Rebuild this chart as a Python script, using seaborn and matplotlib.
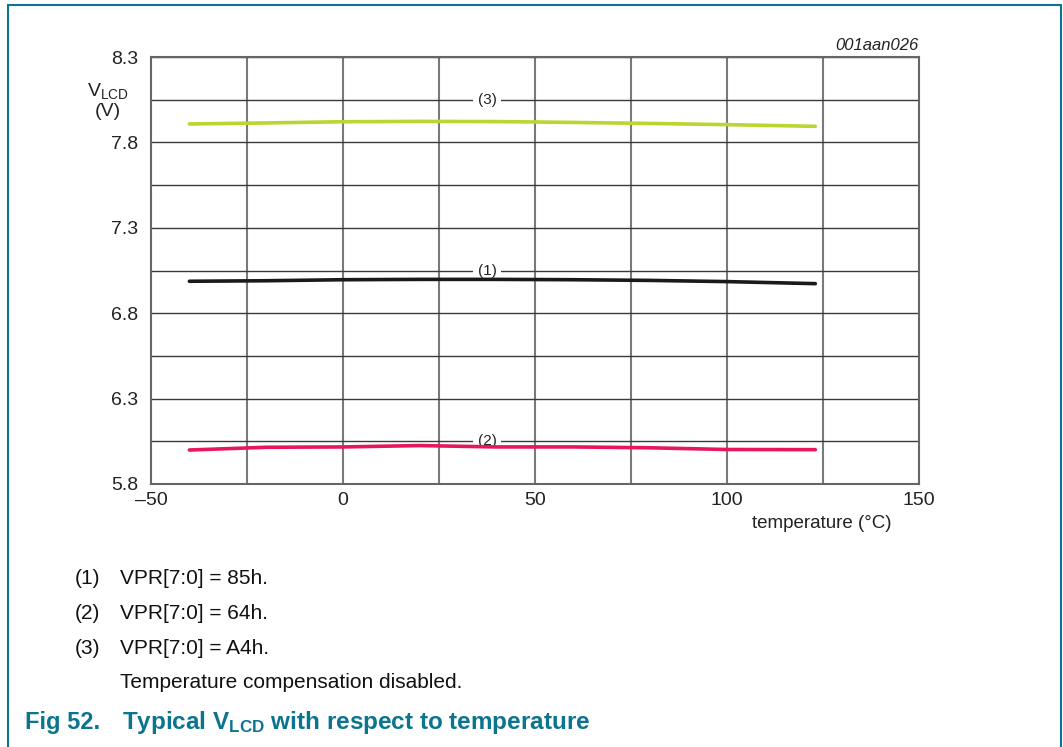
import numpy as np
import pandas as pd
import seaborn as sns
import matplotlib.pyplot as plt
from matplotlib.lines import Line2D

# data
temp = [-40, -20, 0, 20, 40, 60, 80, 100, 123]
v_85h = [6.987, 6.990, 6.996, 6.998, 6.998, 6.996, 6.992, 6.985, 6.973]
v_64h = [5.999, 6.015, 6.017, 6.025, 6.017, 6.017, 6.012, 6.002, 6.001]
v_a4h = [7.908, 7.914, 7.921, 7.923, 7.922, 7.917, 7.911, 7.904, 7.894]
curve_names = ["(1)", "(2)", "(3)"]
label_y = [7.05, 6.05, 8.05]
xticks = [-50, 0, 50, 100, 150]
xticklabels = ["\u201350", "0", "50", "100", "150"]
yticks = [5.8, 6.3, 6.8, 7.3, 7.8, 8.3]
notes = ["VPR[7:0] = 85h.", "VPR[7:0] = 64h.", "VPR[7:0] = A4h."]

df = pd.DataFrame({
    "temp": temp * 3,
    "vlcd": v_85h + v_64h + v_a4h,
    "curve": [c for c in curve_names for _ in temp],
})
colors = {"(1)": "#1a1a1a", "(2)": "#e6175b", "(3)": "#bcd530"}
teal = "#0b7590"

sns.set_style("white")
plt.rcParams['font.family'] = ['Liberation Sans', 'DejaVu Sans']
plt.rcParams['mathtext.fontset'] = 'custom'
plt.rcParams['mathtext.rm'] = 'Liberation Sans'
plt.rcParams['mathtext.it'] = 'Liberation Sans:italic'
plt.rcParams['mathtext.bf'] = 'Liberation Sans:bold'

fig = plt.figure(figsize=(10.63, 7.47), dpi=100)
ax = fig.add_axes([151 / 1063, 1 - 484 / 747, 768 / 1063, 427 / 747])

# grid
for gx in np.arange(-25, 150, 25):
    ax.axvline(gx, color="#7a7a7a", lw=1.5, zorder=1)
for gy in np.arange(6.05, 8.3, 0.25):
    ax.axhline(gy, color="#3a3a3a", lw=1.0, zorder=1)

sns.lineplot(data=df, x="temp", y="vlcd", hue="curve", palette=colors,
             linewidth=2.6, legend=False, ax=ax, zorder=3)

for name, ly in zip(curve_names, label_y):
    ax.text(37.5, ly, name, ha="center", va="center", fontsize=11, color="#222222",
            bbox=dict(facecolor="white", edgecolor="none", pad=3.5), zorder=2)

ax.set_xlim(-50, 150)
ax.set_ylim(5.8, 8.3)
ax.set_xticks(xticks)
ax.set_xticklabels(xticklabels)
ax.set_yticks(yticks)
ax.tick_params(axis="both", length=0, labelsize=14, colors="#222222")
ax.tick_params(axis="y", pad=9)
ax.tick_params(axis="x", pad=6)
ax.set_xlabel("")
ax.set_ylabel("")
for s in ax.spines.values():
    s.set_color("#666666")
    s.set_linewidth(1.5)
    s.set_visible(True)

fig.text(108 / 1063, 1 - 91 / 747, r"V$_{\mathrm{LCD}}$", ha="center", va="center",
         fontsize=14, color="#222222")
fig.text(108 / 1063, 1 - 112 / 747, "(V)", ha="center", va="center",
         fontsize=14, color="#222222")
fig.text(822 / 1063, 1 - 523 / 747, "temperature (\u00b0C)", ha="center", va="center",
         fontsize=13.5, color="#222222")
fig.text(919 / 1063, 1 - 45 / 747, "001aan026", ha="right", va="center",
         fontsize=12, style="italic", color="#222222")

# notes under the chart
for i, (name, note) in enumerate(zip(curve_names, notes)):
    yy = 1 - (579 + i * 34.5) / 747
    fig.text(75 / 1063, yy, name, ha="left", va="center", fontsize=15, color="#111111")
    fig.text(120 / 1063, yy, note, ha="left", va="center", fontsize=15, color="#111111")
fig.text(120 / 1063, 1 - 682 / 747, "Temperature compensation disabled.", ha="left",
         va="center", fontsize=15, color="#111111")

fig.text(25 / 1063, 1 - 722 / 747, "Fig 52.", ha="left", va="center", fontsize=17,
         fontweight="bold", color=teal)
fig.text(122 / 1063, 1 - 722 / 747,
         r"Typical V$_{\mathbf{LCD}}$ with respect to temperature", ha="left",
         va="center", fontsize=17.5, fontweight="bold", color=teal)

# frame
fig.add_artist(Line2D([8 / 1063, 8 / 1063], [0, 1 - 4.5 / 747], color=teal, lw=1.5))
fig.add_artist(Line2D([8 / 1063, 1061 / 1063], [1 - 4.5 / 747, 1 - 4.5 / 747], color=teal, lw=1.5))
fig.add_artist(Line2D([1061 / 1063, 1061 / 1063], [0, 1 - 4.5 / 747], color=teal, lw=1.5))

fig.savefig("out.png", dpi=100, facecolor="white")
